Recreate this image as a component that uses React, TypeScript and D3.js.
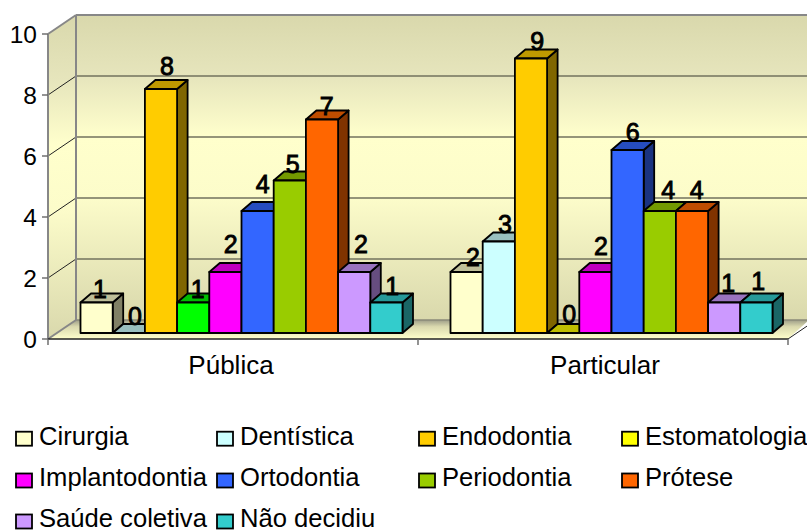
import React from "react";
import * as d3 from "d3";

const categories = ["Pública", "Particular"];
const seriesNames = ["Cirurgia", "Dentística", "Endodontia", "Estomatologia", "Implantodontia", "Ortodontia", "Periodontia", "Prótese", "Saúde coletiva", "Não decidiu"];
const publica = [1, 0, 8, 1, 2, 4, 5, 7, 2, 1];
const particular = [2, 3, 9, 0, 2, 6, 4, 4, 1, 1];
const seriesColors = ["#FFFFCC", "#CCFFFF", "#FFCC00", "#FFFF00", "#FF00FF", "#3366FF", "#99CC00", "#FF6600", "#CC99FF", "#33CCCC"];
// Pública's Estomatologia bar is recoloured in the source chart.
const publicaOverrides: Record<number, string> = { 3: "#00FF00" };
const yTicks = [0, 2, 4, 6, 8, 10];

const W = 807, H = 531;
const FONT = "'Liberation Sans', Arial, sans-serif";
const DX = 28, DY = -19;      // wall depth
const BDX = 10.5, BDY = -9;   // bar depth
const BAR_LIFT = 6;

// Hand-placed label nudges of the source chart, relative to each bar's centre and top.
const labelShiftX = [
  [3.4, 6.2, 6, 4.5, 5.3, 5.1, 2.9, 4.7, 6.8, 5.9],
  [6.4, 6.2, 6.3, 6.1, 5.6, 5.1, 8.5, 4.7, 4.1, 1.9],
];
const labelLift = [
  [4.2, 8, 14, 4.2, 19.3, 17.7, 7.2, 4.5, 19.3, 7.5],
  [6, 8.2, 8.5, 9.7, 17, 9, 11.7, 11.7, 10.8, 12.5],
];
const categoryLabelShift = [-2, 2];

const x0 = d3.scaleBand<string>().domain(categories).range([48, 788]);
const xInner = d3.scaleBand<string>().domain(seriesNames).range([32.5, 354.5]);
const y = d3.scaleLinear().domain([0, 10]).range([339, 34]);

const shade = (c: string, k: number) => {
  const r = d3.rgb(c);
  return d3.rgb(r.r * k, r.g * k, r.b * k).formatHex();
};
const poly = (pts: [number, number][]) => d3.line()(pts) + "Z";

function Bar({ x, w, v, color }: { x: number; w: number; v: number; color: string }) {
  const yb = y(0) - BAR_LIFT;
  const yt = y(v) - BAR_LIFT;
  const sw = 1.8;
  return (
    <g stroke="#000" strokeWidth={sw} strokeLinejoin="round">
      {v > 0 && <path d={poly([[x + w, yt], [x + w + BDX, yt + BDY], [x + w + BDX, yb + BDY], [x + w, yb]])} fill={shade(color, 0.5)} />}
      <path d={poly([[x, yt], [x + BDX, yt + BDY], [x + w + BDX, yt + BDY], [x + w, yt]])} fill={shade(color, 0.75)} />
      {v > 0 && <rect x={x} y={yt} width={w} height={yb - yt} fill={color} />}
    </g>
  );
}

export default function App() {
  const [xL, xR] = x0.range();
  const rows = categories.map((c, i) => ({ c, i, values: i === 0 ? publica : particular, overrides: i === 0 ? publicaOverrides : {} }));
  const legendCols = [16, 217, 419, 622];
  const legendRows = [438.7, 480.5, 521.5];
  return (
    <svg width={W} height={H} viewBox={`0 0 ${W} ${H}`} style={{ position: "absolute", left: 0, top: 0, background: "#fff" }} fontFamily={FONT}>
      <defs>
        <linearGradient id="wall" x1="0" y1="0" x2="0" y2="1">
          <stop offset="0" stopColor="#D9D8AC" />
          <stop offset="0.2" stopColor="#E6E5BC" />
          <stop offset="0.4" stopColor="#FFFFCC" />
          <stop offset="0.6" stopColor="#FCFCCA" />
          <stop offset="1" stopColor="#D9D8AC" />
        </linearGradient>
        <linearGradient id="floor" x1="0" y1="0" x2="0" y2="1">
          <stop offset="0" stopColor="#9E9E88" />
          <stop offset="0.35" stopColor="#DAD9AE" />
          <stop offset="1" stopColor="#FFFFCC" />
        </linearGradient>
      </defs>

      {/* back wall */}
      <rect x={xL + DX} y={y(10) + DY} width={W - xL - DX} height={y(0) - y(10)} fill="url(#wall)" />
      {/* left wall */}
      <path d={poly([[xL, y(10)], [xL + DX, y(10) + DY], [xL + DX, y(0) + DY], [xL, y(0)]])} fill="url(#wall)" />
      {/* floor */}
      <path d={poly([[xL, y(0)], [xL + DX, y(0) + DY], [W + 2, y(0) + DY], [xR, y(0)]])} fill="url(#floor)" />

      {/* grid */}
      {yTicks.filter(t => t > 0 && t < 10).map(t => (
        <g key={t}>
          <line x1={xL + DX} x2={W} y1={y(t) + DY} y2={y(t) + DY} stroke="#72725E" strokeWidth={1.4} />
          <line x1={xL} x2={xL + DX} y1={y(t)} y2={y(t) + DY} stroke="#222" strokeWidth={1} />
        </g>
      ))}
      <line x1={xL + DX} x2={W} y1={y(0) + DY} y2={y(0) + DY} stroke="#8A8A78" strokeWidth={1.4} />

      {/* frame */}
      <g stroke="#878787" strokeWidth={2} fill="none">
        <line x1={xL + DX} x2={W} y1={y(10) + DY} y2={y(10) + DY} />
        <line x1={xL + DX} x2={xL + DX} y1={y(10) + DY} y2={y(0) + DY} />
        <line x1={xL} x2={xL} y1={y(10)} y2={y(0)} />
        <line x1={xL} x2={xL + DX} y1={y(10)} y2={y(10) + DY} />
        <line x1={xL} x2={xL + DX} y1={y(0)} y2={y(0) + DY} />
      </g>

      {/* axes */}
      <line x1={xL} x2={xR} y1={y(0)} y2={y(0)} stroke="#222" strokeWidth={1.4} />
      <line x1={xR} x2={xR + DX} y1={y(0)} y2={y(0) + DY} stroke="#222" strokeWidth={1} />
      {yTicks.map(t => (
        <g key={t}>
          <line x1={xL - 6} x2={xL} y1={y(t)} y2={y(t)} stroke="#666" strokeWidth={1.4} />
          <text x={37} y={y(t) + 9.3} textAnchor="end" fontSize={24.5} fill="#000">{t}</text>
        </g>
      ))}
      {[xL, x0("Particular")!, xR].map(px => (
        <line key={px} x1={px} x2={px} y1={y(0)} y2={y(0) + 6} stroke="#666" strokeWidth={1.4} />
      ))}
      {categories.map((c, i) => (
        <text key={c} x={x0(c)! + x0.bandwidth() / 2 + categoryLabelShift[i]} y={374} textAnchor="middle" fontSize={26} fill="#000">{c}</text>
      ))}

      {/* bars */}
      {rows.map(r => (
        <g key={r.c}>
          {r.values.map((v, i) => (
            <Bar key={i} x={x0(r.c)! + xInner(seriesNames[i])!} w={xInner.bandwidth()} v={v}
              color={(r.overrides as Record<number, string>)[i] ?? seriesColors[i]} />
          ))}
        </g>
      ))}

      {/* data labels */}
      {rows.map(r => r.values.map((v, i) => (
        <text key={r.c + i} x={x0(r.c)! + xInner(seriesNames[i])! + xInner.bandwidth() / 2 + labelShiftX[r.i][i]} y={y(v) - BAR_LIFT - labelLift[r.i][i]}
          textAnchor="middle" fontSize={25} fill="#000" stroke="#000" strokeWidth={0.9}>{v}</text>
      )))}

      {/* legend */}
      {seriesNames.map((s, i) => {
        const cx = legendCols[i % 4];
        const cy = legendRows[Math.floor(i / 4)];
        return (
          <g key={s}>
            <rect x={cx} y={cy - 7} width={16} height={14} fill={seriesColors[i]} stroke="#000" strokeWidth={1.8} />
            <text x={cx + 23} y={cy + 5.8} fontSize={25.6} fill="#000">{s}</text>
          </g>
        );
      })}
    </svg>
  );
}
